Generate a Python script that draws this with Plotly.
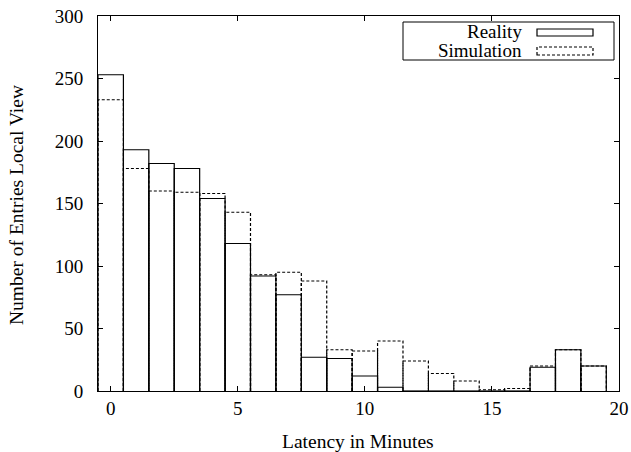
import plotly.graph_objects as go

latency = list(range(20))
reality = [253, 193, 182, 178, 154, 118, 92, 77, 27, 26, 12, 3, 0, 0, 0, 0, 0, 19, 33, 20]
simulation = [233, 178, 160, 159, 158, 143, 93, 95, 88, 33, 32, 40, 24, 14, 8, 1, 2, 20, 33, 20]
x_ticks = [0, 5, 10, 15, 20]
y_ticks = [0, 50, 100, 150, 200, 250, 300]

W, H = 631, 452
PL, PT, PR, PB = 98, 16, 619, 391          # plot area in page pixels
L, T, R, B = PL, PT, W - PR, H - PB
PW, PH = PR - PL, PB - PT
Y_RANGE = [0, 300]


def outline(xs, vals, width=1.0):
    px, py = [], []
    for x, v in zip(xs, vals):
        px += [x - width / 2, x - width / 2, x + width / 2, x + width / 2, None]
        py += [0, v, v, 0, None]
    return px, py


FONT = "Liberation Serif"
FS = 19
fig = go.Figure()
rx, ry = outline(latency, reality)
sx, sy = outline(latency, simulation)
fig.add_trace(go.Scatter(x=rx, y=ry, mode="lines", line=dict(color="black", width=1.2),
                         name="Reality", hoverinfo="skip", connectgaps=False))
fig.add_trace(go.Scatter(x=sx, y=sy, mode="lines", line=dict(color="black", width=1.2, dash="3px,2px"),
                         name="Simulation", hoverinfo="skip", connectgaps=False, yaxis="y2"))


def px2paper(x, y):
    return (x - PL) / PW, (PB - y) / PH


shapes = []
x0, y0 = px2paper(403, 60)
x1, y1 = px2paper(614, 22)
shapes.append(dict(type="rect", xref="paper", yref="paper", x0=x0, y0=y0, x1=x1, y1=y1,
                   line=dict(color="black", width=1)))
a0, b0 = px2paper(537, 36)
a1, b1 = px2paper(593, 29)
shapes.append(dict(type="rect", xref="paper", yref="paper", x0=a0, y0=b0, x1=a1, y1=b1,
                   line=dict(color="black", width=1.2)))
a0, b0 = px2paper(537, 55)
a1, b1 = px2paper(593, 47)
shapes.append(dict(type="rect", xref="paper", yref="paper", x0=a0, y0=b0, x1=a1, y1=b1,
                   line=dict(color="black", width=1.2, dash="3px,2px")))

annotations = []
for label, ypx in [("Reality", 31), ("Simulation", 50)]:
    ax, ay = px2paper(524, ypx)
    annotations.append(dict(text=label, x=ax, y=ay, xref="paper", yref="paper",
                            xanchor="right", yanchor="middle", showarrow=False,
                            font=dict(family=FONT, size=FS, color="black")))
ax, ay = px2paper(358, 441)
annotations.append(dict(text="Latency in Minutes", x=ax, y=ay, xref="paper", yref="paper",
                        xanchor="center", yanchor="middle", showarrow=False,
                        font=dict(family=FONT, size=19.5, color="black")))
ax, ay = px2paper(16, 205)
annotations.append(dict(text="Number of Entries Local View", x=ax, y=ay, xref="paper", yref="paper",
                        xanchor="center", yanchor="middle", showarrow=False, textangle=-90,
                        font=dict(family=FONT, size=19.5, color="black")))

fig.update_layout(
    width=W, height=H,
    margin=dict(l=L, r=R, t=T, b=B),
    paper_bgcolor="white", plot_bgcolor="white",
    showlegend=False,
    font=dict(family=FONT, size=FS, color="black"),
    shapes=shapes, annotations=annotations,
    xaxis=dict(range=[-0.5, 20], tickvals=x_ticks, ticks="inside", ticklen=5, tickcolor="black",
               showline=True, linecolor="black", linewidth=1, mirror="ticks", showgrid=False,
               zeroline=False, automargin=False, ticklabeloverflow="allow",
               tickfont=dict(family=FONT, size=FS)),
    # labelled axis: transparent outside ticks push the labels away from the frame
    yaxis=dict(range=Y_RANGE, tickvals=y_ticks, ticks="outside", ticklen=10,
               tickcolor="rgba(0,0,0,0)",
               showline=True, linecolor="black", linewidth=1, mirror=True, showgrid=False,
               zeroline=False, automargin=False, ticklabeloverflow="allow",
               tickfont=dict(family=FONT, size=FS)),
    # overlay axis carrying the visible inside tick marks
    yaxis2=dict(range=Y_RANGE, overlaying="y", side="left", tickvals=y_ticks, ticks="inside",
                ticklen=5, tickcolor="black", showticklabels=False,
                showline=True, linecolor="black", linewidth=1, mirror="ticks", showgrid=False,
                zeroline=False, automargin=False),
)
fig.write_html("out.html", post_script="document.body.style.margin='0';",
               config={"displayModeBar": False})
